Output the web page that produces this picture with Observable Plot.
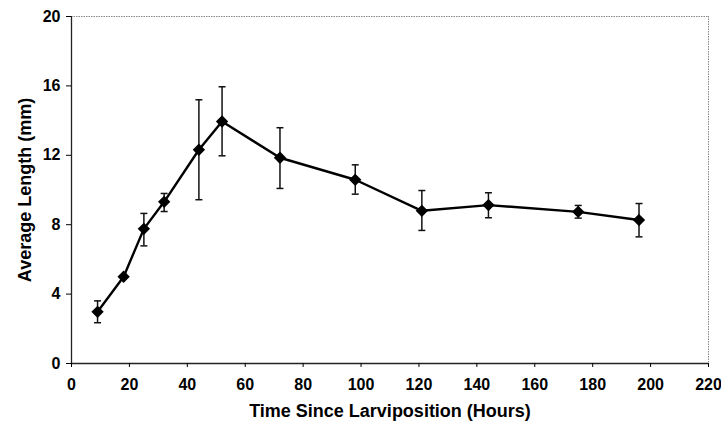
<!DOCTYPE html>
<html>
<head>
<meta charset="utf-8">
<script src="https://cdn.jsdelivr.net/npm/d3@7"></script>
<script src="https://cdn.jsdelivr.net/npm/@observablehq/plot@0.6"></script>
<style>
  html, body { margin: 0; padding: 0; background: #fff; }
  #chart { width: 721px; height: 425px; }
</style>
</head>
<body>
<div id="chart"></div>
<script>
// Data
const hours      = [9, 18, 25, 32, 44, 52, 72, 98, 121, 144, 175, 196];
const meanLength = [2.98, 5.0, 7.76, 9.32, 12.32, 13.95, 11.86, 10.59, 8.8, 9.13, 8.74, 8.27];
const errUpper   = [3.61, 5.0, 8.65, 9.8, 15.2, 15.95, 13.59, 11.45, 9.97, 9.84, 9.11, 9.22];
const errLower   = [2.35, 5.0, 6.78, 8.76, 9.44, 11.97, 10.09, 9.76, 7.67, 8.4, 8.38, 7.3];
const xTicks = [0, 20, 40, 60, 80, 100, 120, 140, 160, 180, 200, 220];
const yTicks = [0, 4, 8, 12, 16, 20];
const xLabel = "Time Since Larviposition (Hours)";
const yLabel = "Average Length (mm)";

const data = hours.map((h, i) => ({
  hours: h, mean: meanLength[i], hi: errUpper[i], lo: errLower[i]
}));
const bars = data.filter(d => d.hi - d.lo > 0.01);
const caps = bars.flatMap(d => [{hours: d.hours, v: d.hi}, {hours: d.hours, v: d.lo}]);

const capSymbol = {
  draw(ctx, size) {
    ctx.moveTo(-3.5, 0);
    ctx.lineTo(3.5, 0);
  }
};

const chart = Plot.plot({
  width: 721,
  height: 425,
  marginLeft: 71,
  marginRight: 13,
  marginTop: 16,
  marginBottom: 62,
  style: {
    fontFamily: "'Liberation Sans', Arial, sans-serif",
    fontSize: "16px",
    fontWeight: "bold",
    color: "#000",
    background: "#fff",
    overflow: "visible"
  },
  x: {domain: [0, 220], label: null},
  y: {domain: [0, 20], label: null},
  marks: [
    Plot.ruleY([20], {stroke: "#888", strokeDasharray: "1.5,1", strokeWidth: 1}),
    Plot.ruleX([220], {stroke: "#888", strokeDasharray: "1.5,1", strokeWidth: 1}),
    Plot.ruleX([0], {stroke: "#222", strokeWidth: 1.3}),
    Plot.ruleY([0], {stroke: "#222", strokeWidth: 1.3}),
    Plot.axisX({ticks: xTicks, tickSize: 4, tickPadding: 11, label: null}),
    Plot.axisY({ticks: yTicks, tickSize: 5, tickPadding: 6, label: null}),
    Plot.ruleX(bars, {x: "hours", y1: "lo", y2: "hi", stroke: "#111", strokeWidth: 1.5}),
    Plot.dot(caps, {x: "hours", y: "v", symbol: capSymbol, r: 3, stroke: "#111", strokeWidth: 1.5, fill: "none"}),
    Plot.line(data, {x: "hours", y: "mean", stroke: "#000", strokeWidth: 2.4}),
    Plot.dot(data, {x: "hours", y: "mean", symbol: "diamond2", r: 4.6, fill: "#000", stroke: "#000"}),
    Plot.text([xLabel], {frameAnchor: "bottom", dy: 53, fontSize: 18, fontWeight: "bold"}),
    Plot.text([yLabel], {frameAnchor: "left", textAnchor: "middle", dx: -46, rotate: -90, fontSize: 18, fontWeight: "bold"})
  ]
});
// enlarge numeric tick labels
chart.querySelectorAll("text").forEach(t => {
  if (/^[0-9]+$/.test(t.textContent.trim())) {
    t.setAttribute("font-size", "16");
    t.style.fontSize = "16px";
    if (t.parentNode && t.parentNode.setAttribute) t.parentNode.setAttribute("font-size", "16");
  }
});
document.getElementById("chart").appendChild(chart);
</script>
</body>
</html>
